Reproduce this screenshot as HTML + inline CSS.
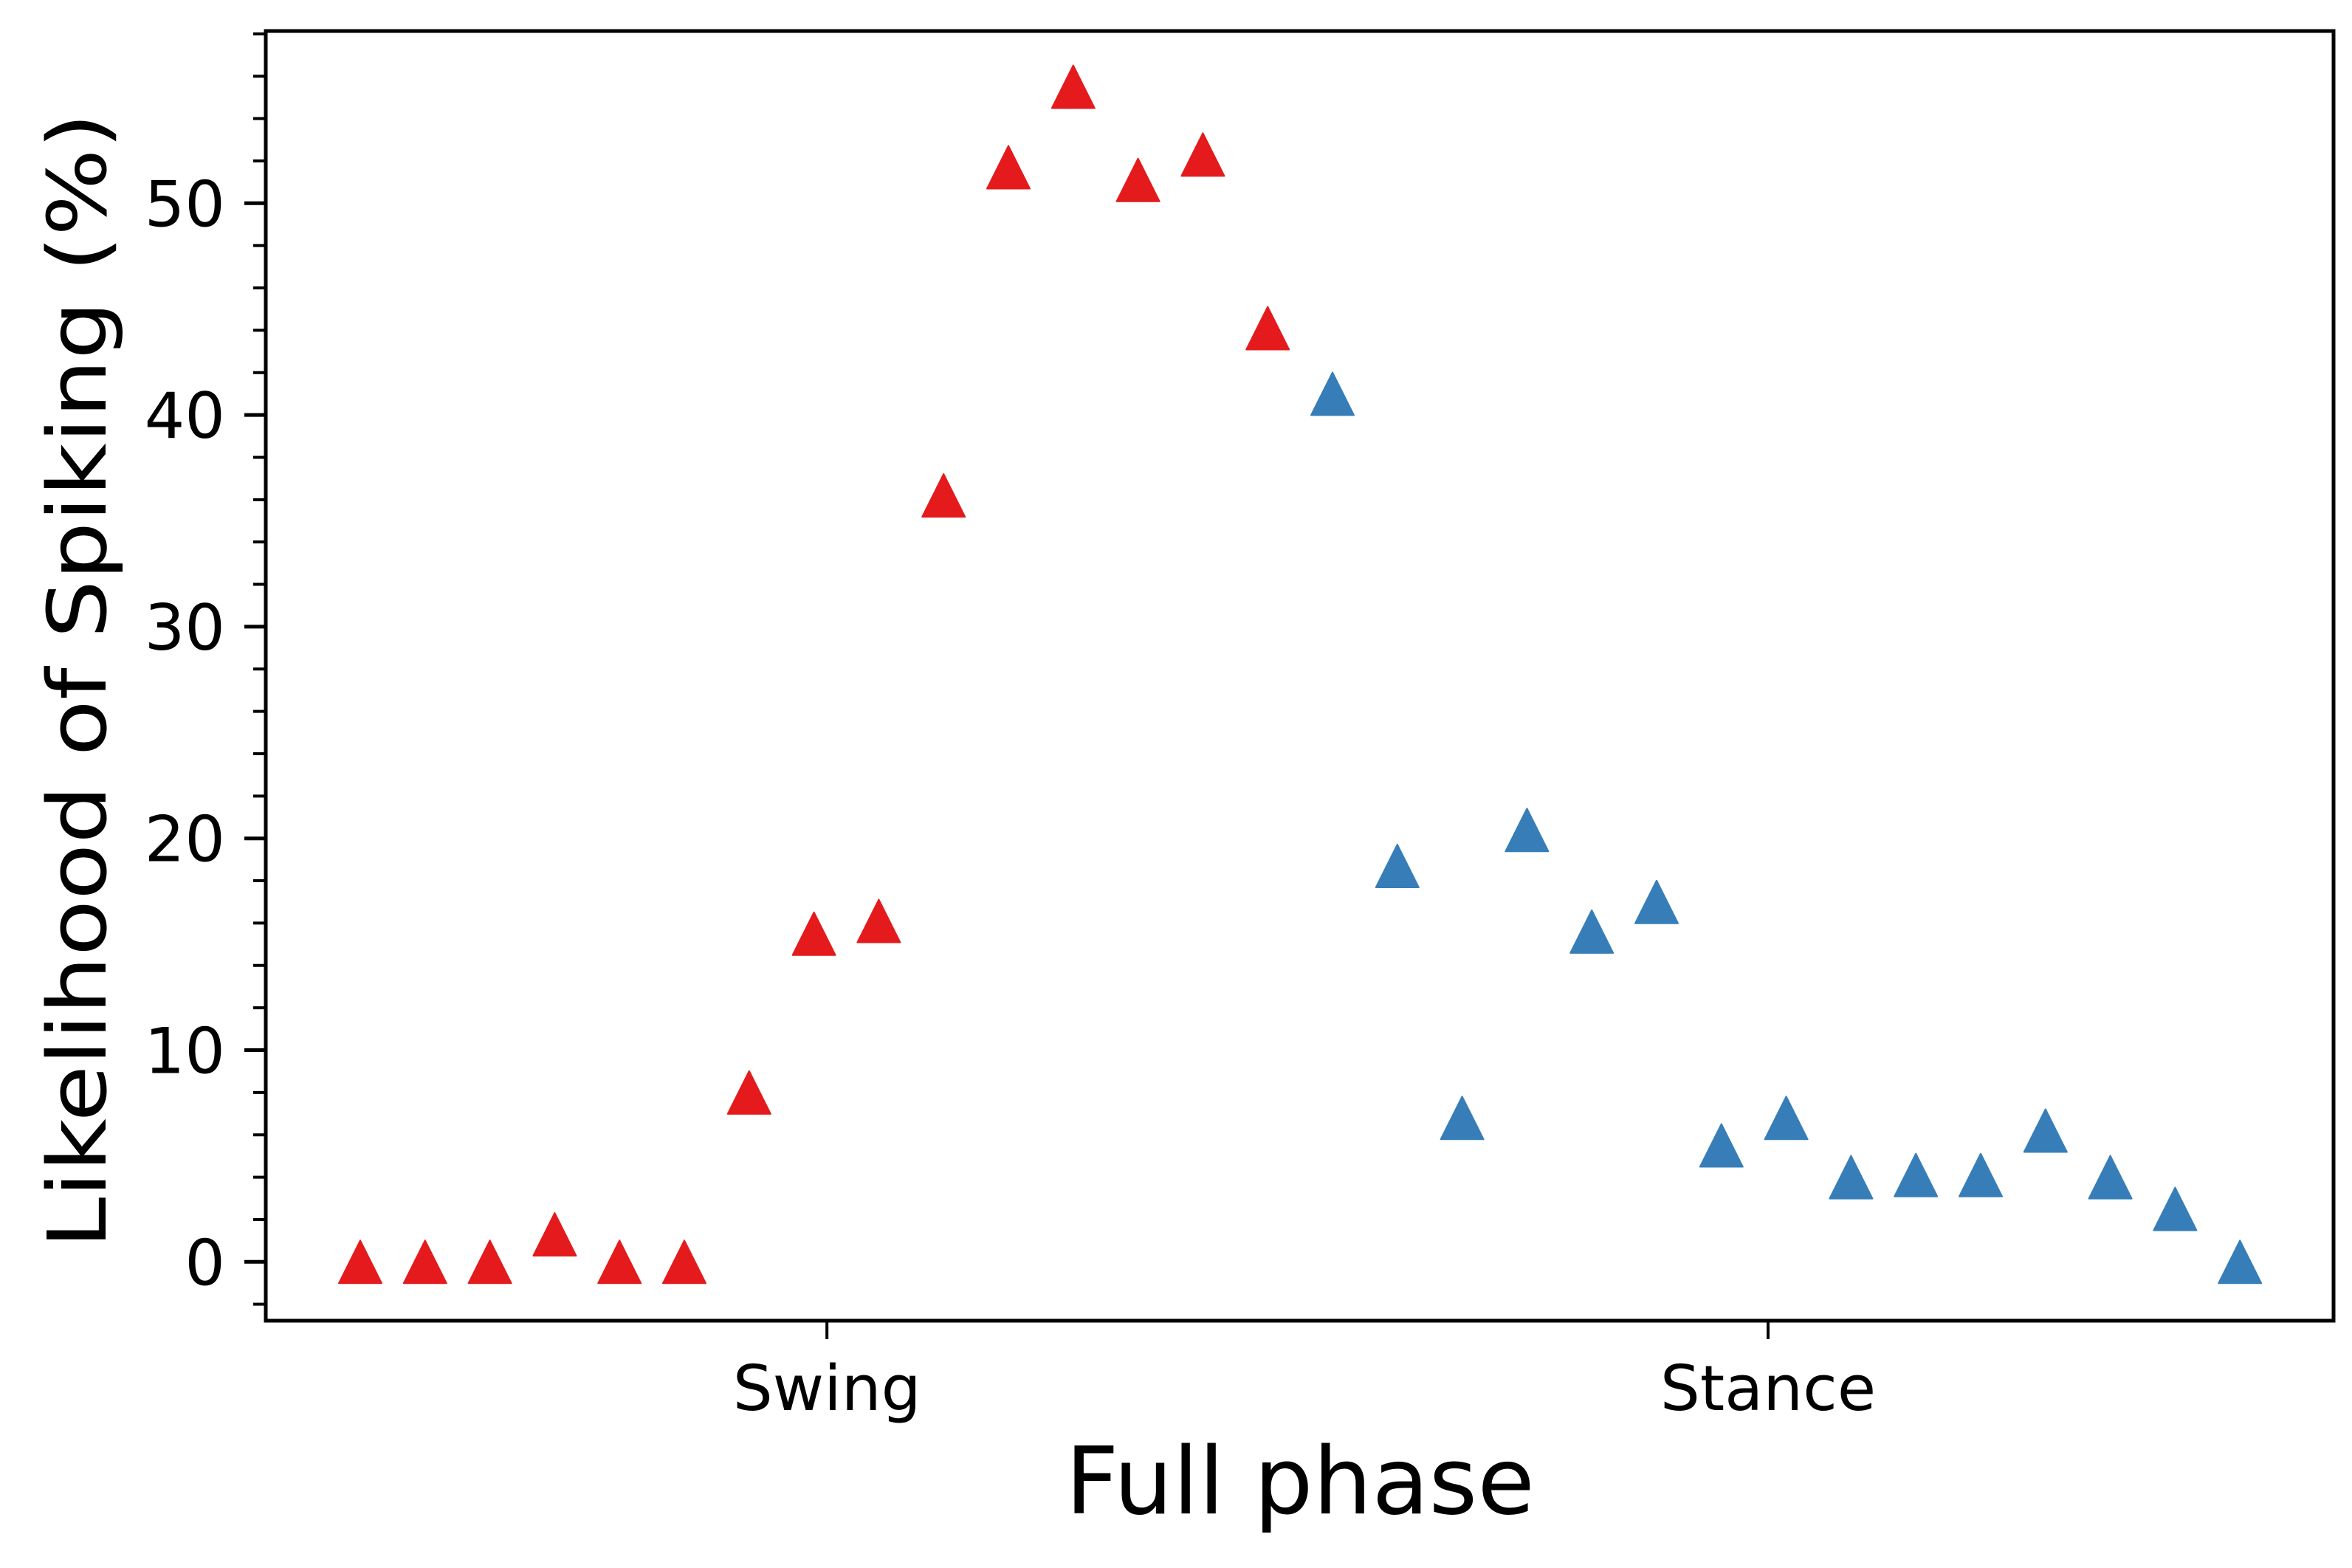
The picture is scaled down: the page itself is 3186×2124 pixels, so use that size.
<!DOCTYPE html>
<html><head><meta charset="utf-8"><style>html,body{margin:0;padding:0;background:#fff}svg{display:block}</style></head>
<body>
<svg id="chart" width="3186" height="2124" xmlns="http://www.w3.org/2000/svg" font-family="'DejaVu Sans','Liberation Sans',sans-serif">
<rect width="3186" height="2124" fill="#fff"/>
<g id="marks"></g>
<g id="axes"></g>
</svg>
<script>
const swingValues = [0,0,0,1.3,0,0,8.0,15.5,16.1,36.2,51.7,55.5,51.1,52.3,44.1];
const stanceValues = [41.0,18.7,6.8,20.4,15.6,17.0,5.5,6.8,4.0,4.1,4.1,6.2,4.0,2.5,0];
const yTicks = [0,10,20,30,40,50];
const xTickLabels = ['Swing','Stance'];
const xTickIndex = [7.2,21.72];

const L=360,R=3161,T=42,B=1789;
const y0px=1709.3, pxPerUnit=28.68;
function yScale(v){return y0px - v*pxPerUnit;}
function xScale(i){return 488 + i*87.8;}
const NS='http://www.w3.org/2000/svg';
function mk(tag,attrs,parent){const e=document.createElementNS(NS,tag);for(const k in attrs)e.setAttribute(k,attrs[k]);parent.appendChild(e);return e;}
const marks=document.getElementById('marks');
const axes=document.getElementById('axes');
function tri(cx,cy,color,name){
  const h=29;
  const p=mk('path',{d:`M${cx},${cy-h} L${cx+h},${cy+h} L${cx-h},${cy+h} Z`,fill:color,stroke:color,'stroke-width':2,'stroke-linejoin':'round'},marks);
  
  
}
swingValues.forEach((v,i)=>tri(xScale(i),yScale(v),'#e41a1c','swing-point-'+i));
stanceValues.forEach((v,i)=>tri(xScale(i+swingValues.length),yScale(v),'#377eb8','stance-point-'+i));

const fr=mk('rect',{x:L,y:T,width:R-L,height:B-T,fill:'none',stroke:'#000','stroke-width':5},axes);


for(let v=-2; v<=58; v+=2){
  const y=yScale(v); if(y<T-1||y>B+1) continue;
  if(v%10===0) continue;
  const t=mk('line',{x1:L-17,x2:L,y1:y,y2:y,stroke:'#000','stroke-width':4},axes);
  
  
}
yTicks.forEach(v=>{
  const y=yScale(v);
  const t=mk('line',{x1:L-29,x2:L,y1:y,y2:y,stroke:'#000','stroke-width':5},axes);
  
  
  const tx=mk('text',{x:L-55,y:y+31,'text-anchor':'end','font-size':86,fill:'#000'},axes);
  tx.textContent=String(v);
  
  
});
xTickLabels.forEach((lab,i)=>{
  const x=xScale(xTickIndex[i]);
  const t=mk('line',{x1:x,x2:x,y1:B,y2:B+25,stroke:'#000','stroke-width':4},axes);
  
  
  const tx=mk('text',{x:x,y:1910,'text-anchor':'middle','font-size':85,fill:'#000'},axes);
  tx.textContent=lab;
  
  
});
const xl=mk('text',{x:1761,y:2050,'text-anchor':'middle','font-size':126,fill:'#000'},axes);
xl.textContent='Full phase';


const yl=mk('text',{x:0,y:0,'text-anchor':'middle','font-size':110,fill:'#000',transform:'translate(143,922) rotate(-90)',textLength:1538,lengthAdjust:'spacingAndGlyphs'},axes);
yl.textContent='Likelihood of Spiking (%)';


</script>
</body></html>
